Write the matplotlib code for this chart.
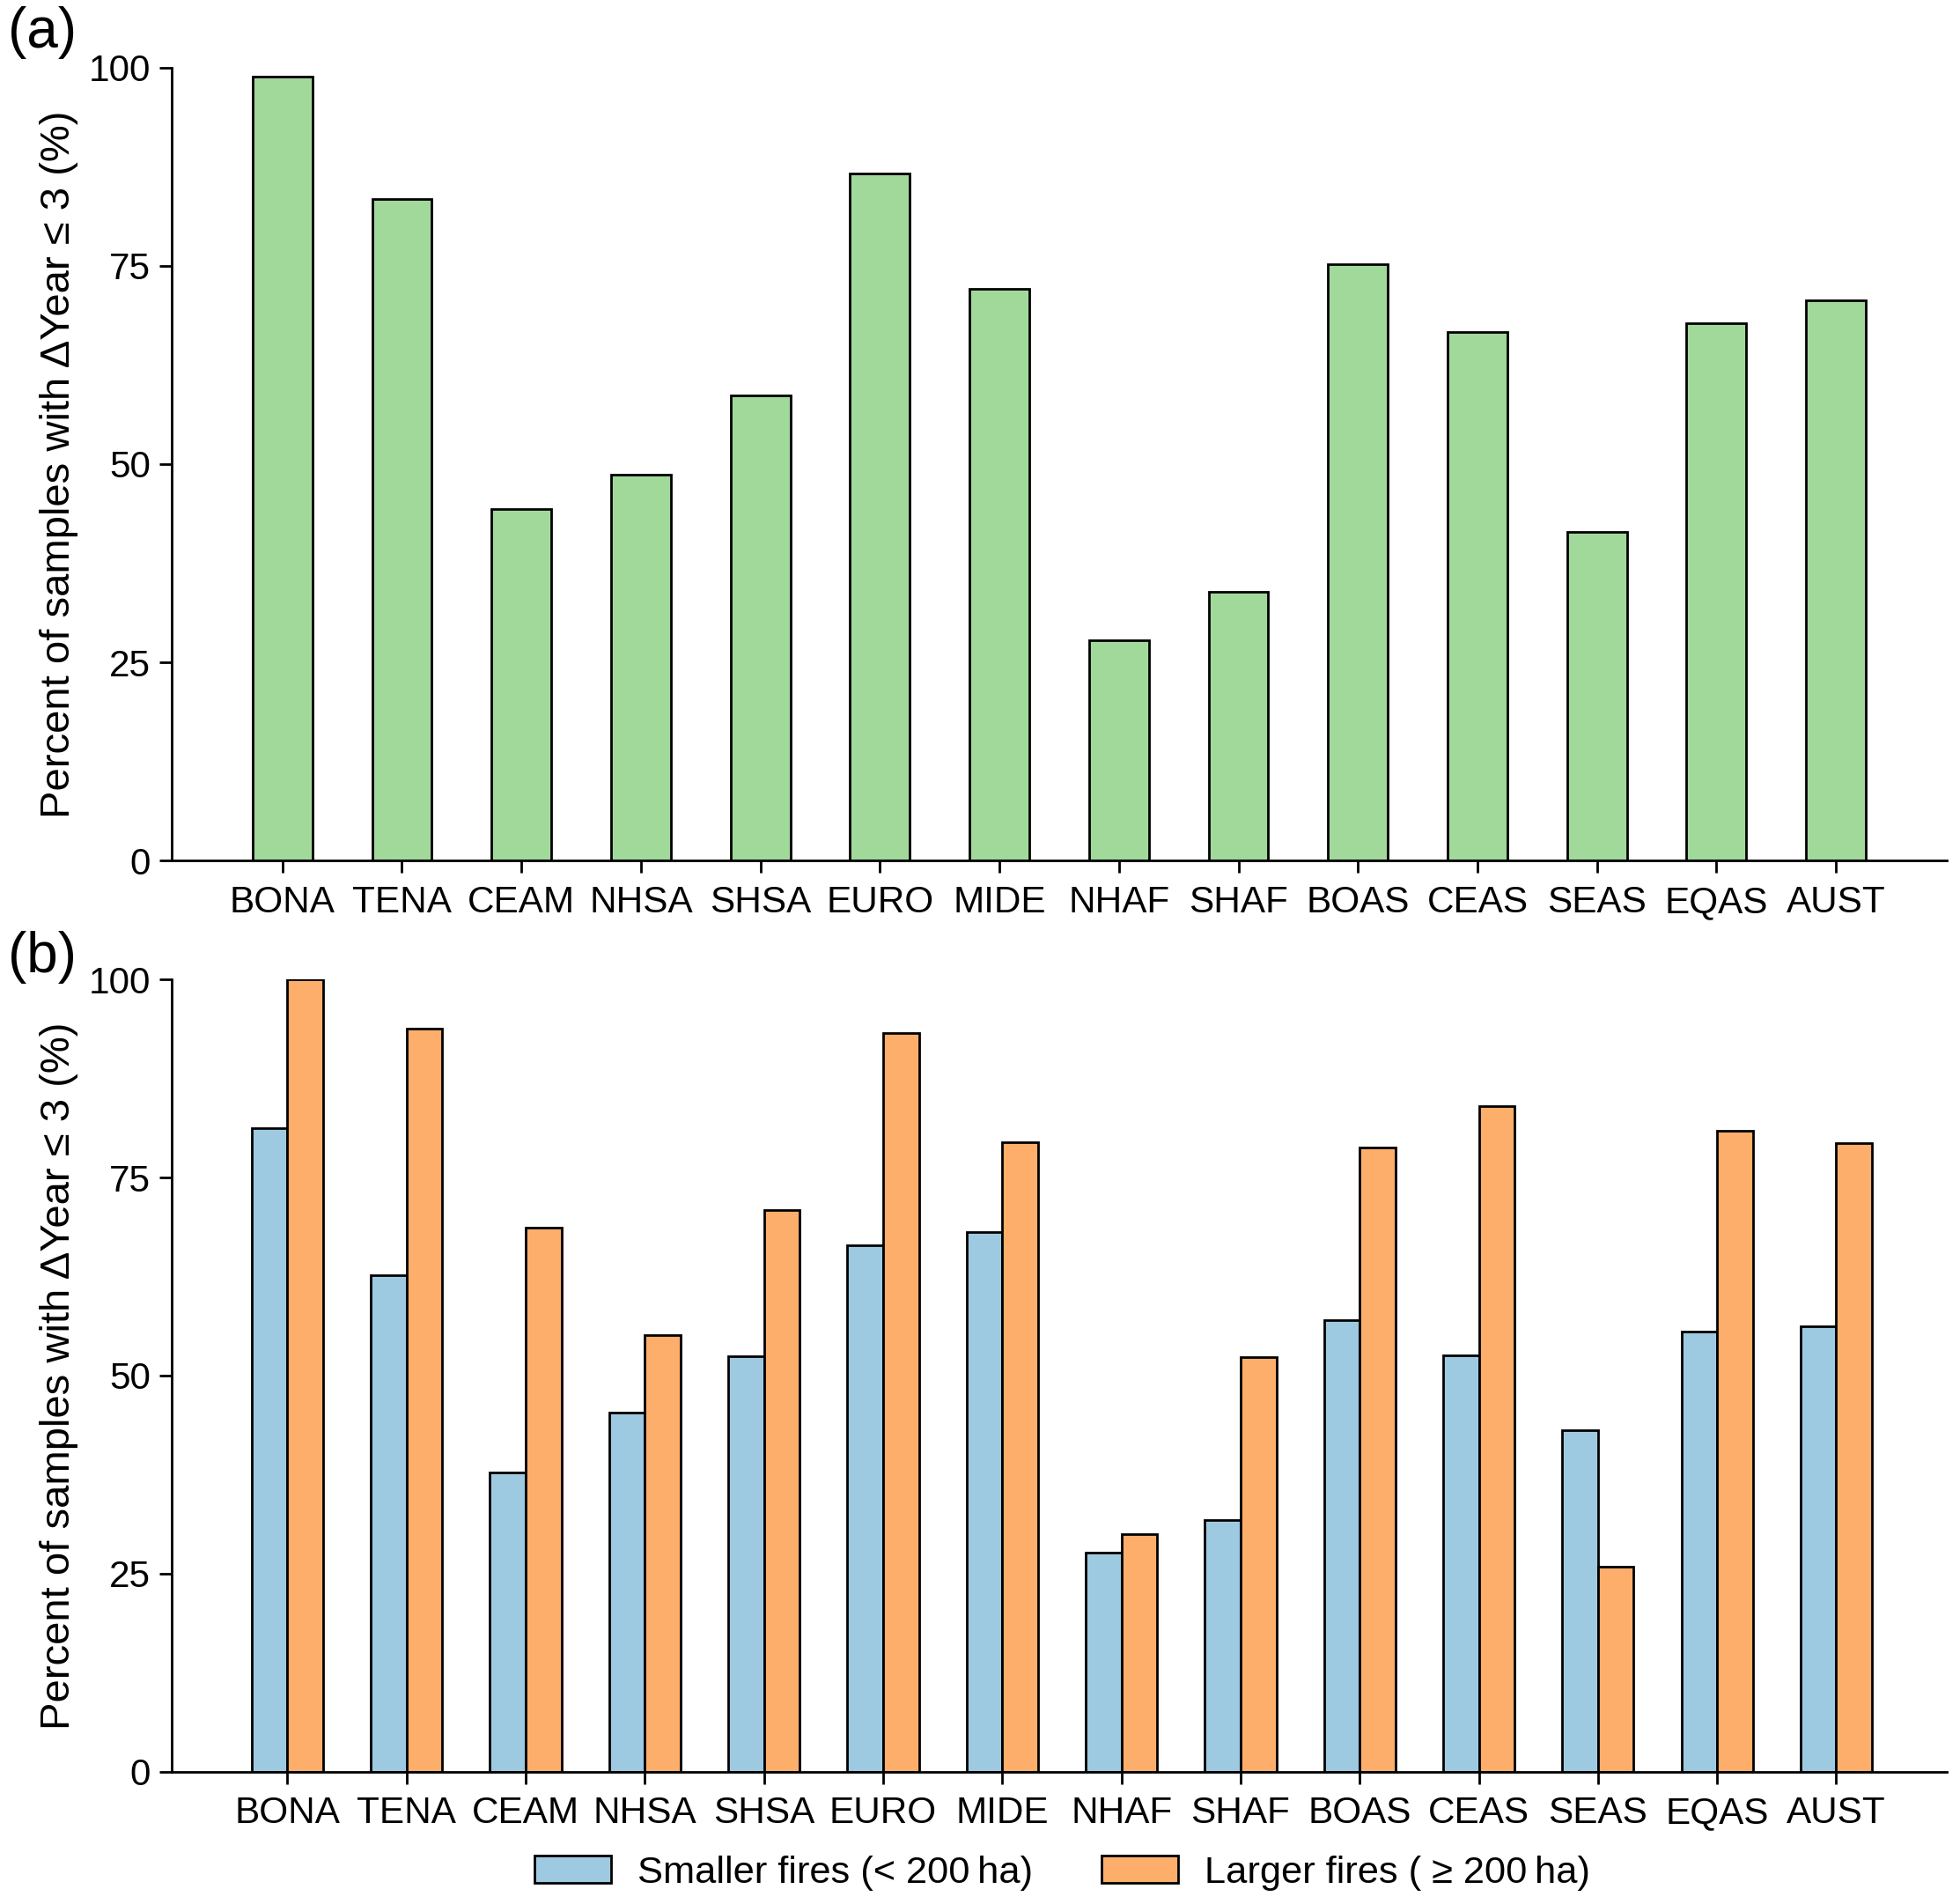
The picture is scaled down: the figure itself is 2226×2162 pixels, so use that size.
import numpy as np
import matplotlib
matplotlib.use("Agg")
from matplotlib import pyplot as plt

plt.rcParams['font.family'] = ['Liberation Sans', 'DejaVu Sans']

regions = ["BONA", "TENA", "CEAM", "NHSA", "SHSA", "EURO", "MIDE",
           "NHAF", "SHAF", "BOAS", "CEAS", "SEAS", "EQAS", "AUST"]

# panel (a): all fires
all_fires = [98.9, 83.4, 44.3, 48.7, 58.7, 86.7, 72.1,
             27.8, 33.9, 75.2, 66.7, 41.5, 67.8, 70.7]

# panel (b): split by fire size
small_fires = [81.2, 62.7, 37.8, 45.3, 52.4, 66.4, 68.1,
               27.6, 31.8, 57.0, 52.6, 43.1, 55.6, 56.2]
large_fires = [100.0, 93.8, 68.7, 55.1, 70.9, 93.2, 79.5,
               30.0, 52.3, 78.8, 84.0, 25.9, 80.9, 79.3]

ylabel = "Percent of samples with \u0394Year \u2264 3 (%)"

fig = plt.figure(figsize=(11.13, 10.81), dpi=200)
ax_a = fig.add_axes([0.0874, 0.548, 0.906, 0.4165])
ax_b = fig.add_axes([0.0874, 0.0696, 0.906, 0.4159])

x = np.arange(len(regions))

ax_a.bar(x, all_fires, width=0.5, color="#a1d99b", edgecolor="black", linewidth=1.0)

w = 0.3
ax_b.bar(x - w / 2, small_fires, width=w, color="#9ecae1", edgecolor="black",
         linewidth=1.0, label="Smaller fires (< 200\u2009ha)")
ax_b.bar(x + w / 2, large_fires, width=w, color="#fdae6b", edgecolor="black",
         linewidth=1.0, label="Larger fires ( \u2265 200\u2009ha)")

ax_a.set_xlim(-0.93, 13.93)
ax_b.set_xlim(-0.975, 13.93)

for ax in (ax_a, ax_b):
    ax.set_ylim(0, 100)
    ax.set_yticks([0, 25, 50, 75, 100])
    ax.set_xticks(x)
    ax.set_xticklabels(regions)
    ax.spines['top'].set_visible(False)
    ax.spines['right'].set_visible(False)
    ax.spines['left'].set_linewidth(1.0)
    ax.spines['bottom'].set_linewidth(1.0)
    ax.tick_params(axis='both', direction='out', length=5, width=1.0, labelsize=15.2)
    ax.tick_params(axis='x', pad=5)
    ax.set_ylabel(ylabel, fontsize=17, labelpad=4)

fig.text(0.004, 0.983, "(a)", fontsize=23, va='center', ha='left')
fig.text(0.004, 0.497, "(b)", fontsize=23, va='center', ha='left')

fig.legend(loc='center', bbox_to_anchor=(0.542, 0.0164), ncol=2, frameon=False,
           fontsize=15.6, handlelength=2.0, handleheight=0.7, handletextpad=0.7,
           columnspacing=1.8)

fig.savefig("out.png", dpi=200)
